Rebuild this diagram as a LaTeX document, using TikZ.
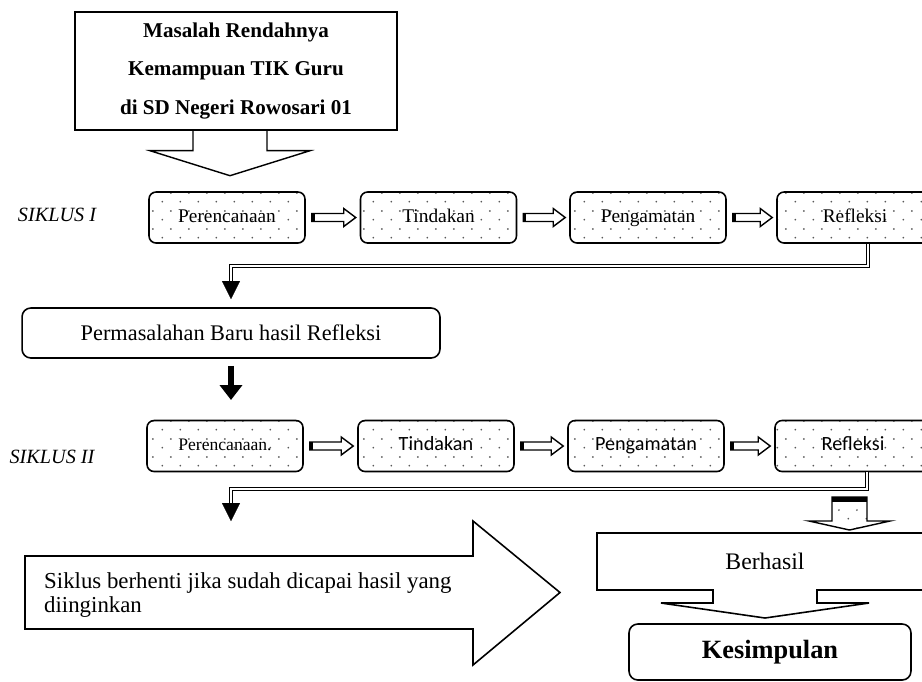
\documentclass[tikz,border=0pt]{standalone}
\usepackage{fontspec}
\setmainfont{Liberation Serif}
\newfontfamily\carlito{Carlito}
\usepackage{tikz}
\usetikzlibrary{arrows.meta}
\usetikzlibrary{positioning,calc,patterns}
\pgfdeclarepatternformonly{sparse dots}{\pgfpointorigin}{\pgfpoint{10pt}{10pt}}{\pgfpoint{10pt}{10pt}}{%
  \pgfpathcircle{\pgfpoint{2.5pt}{2.5pt}}{0.55pt}%
  \pgfpathcircle{\pgfpoint{7.5pt}{7.5pt}}{0.55pt}%
  \pgfusepath{fill}%
}
\tikzset{
    stage/.style={
        draw,
        rounded corners=4pt,
        line width=0.9pt,
        pattern=sparse dots,
        pattern color=black!65,
        minimum width=3.12cm,
        minimum height=1.02cm,
        text height=8pt,
        text depth=2.5pt,
        inner sep=1pt,
        font=\fontsize{11}{13}\selectfont
    },
    roundbox/.style={
        draw,
        rounded corners=5pt,
        line width=0.9pt,
        inner sep=2pt
    },
    cyclelabel/.style={font=\itshape\fontsize{11.5}{13}\selectfont},
    hollowarrow/.style={draw, line width=0.8pt, line join=miter},
    twoline/.style={draw, double, line width=0.7pt, double distance=1.2pt},
    blackhead/.style={draw, line width=0.1pt, -{Triangle[width=0.36cm,length=0.36cm]}}
}

\begin{document}
\begin{tikzpicture}[x=0.02cm, y=-0.02cm]
  \useasboundingbox (0,0) rectangle (922,681);
  \clip (0,0) rectangle (922,681);

  % Problem statement
  \node[draw, line width=0.8pt, minimum width=6.44cm, minimum height=2.36cm, align=center,
        font=\bfseries\fontsize{12}{22}\selectfont] (masalah) at (236,71)
        {Masalah Rendahnya\\Kemampuan TIK Guru\\di SD Negeri Rowosari 01};
  \draw[hollowarrow] ($(masalah.south)+(-43,0)$) -- ($(masalah.south)+(-43,20)$)
        -- ($(masalah.south)+(-86,20)$) -- ($(masalah.south)+(-6,45)$)
        -- ($(masalah.south)+(74,20)$) -- ($(masalah.south)+(31,20)$)
        -- ($(masalah.south)+(31,0)$);

  % Cycle I
  \node[cyclelabel] (siklus1) at (57,215) {SIKLUS I};
  \node[stage] (p1) at (227,217.5) {Perencanaan};
  \node[stage] (t1) at (438.5,217.5) {Tindakan};
  \node[stage] (g1) at (648,217.5) {Pengamatan};
  \node[stage] (r1) at (855,217.5) {Refleksi};

  % New problems
  \node[roundbox, minimum width=8.36cm, minimum height=1cm,
        font=\fontsize{12.7}{15}\selectfont] (perm) at (231,333) {Permasalahan Baru hasil Refleksi};

  % Cycle II
  \node[cyclelabel] (siklus2) at (52,457) {SIKLUS II};
  \node[stage, font=\fontsize{10}{12}\selectfont] (p2) at (225,446) {Perencanaan.};
  \node[stage, font=\carlito\fontsize{11.5}{13}\selectfont] (t2) at (436,446) {Tindakan};
  \node[stage, font=\carlito\fontsize{11.5}{13}\selectfont] (g2) at (646,446) {Pengamatan};
  \node[stage, font=\carlito\fontsize{11.5}{13}\selectfont] (r2) at (853,446) {Refleksi};

  % Arrows between the stages
  \foreach \a/\b in {p1/t1,t1/g1,g1/r1,p2/t2,t2/g2,g2/r2}{
    \draw[hollowarrow] ($(\a.east)+(6,-4)$) -- ($(\b.west)+(-16,-4)$) -- ($(\b.west)+(-16,-9)$)
          -- ($(\b.west)+(-4,0)$) -- ($(\b.west)+(-16,9)$) -- ($(\b.west)+(-16,4)$)
          -- ($(\a.east)+(6,4)$) -- cycle;
    \fill ($(\a.east)+(6,-4)$) rectangle ($(\a.east)+(9,4)$);
  }

  % Back from Refleksi
  \coordinate (bend1) at (231,266);
  \coordinate (drop1) at (231,282);
  \coordinate (tip1) at (231,299);
  \draw[twoline] ($(r1.south)+(13,0)$) |- (bend1) -- (drop1);
  \draw[blackhead] (drop1) -- (tip1);

  \coordinate (tip2) at (231,400);
  \draw[line width=0.12cm, -{Triangle[width=0.44cm,length=0.3cm]}] ($(perm.south)+(0,7)$) -- (tip2);

  \coordinate (bend2) at (231,489);
  \coordinate (drop2) at (231,504);
  \coordinate (tip3) at (231,521);
  \draw[twoline] ($(r2.south)+(14,0)$) |- (bend2) -- (drop2);
  \draw[blackhead] (drop2) -- (tip3);

  % Stop condition
  \draw[line width=0.9pt, line join=miter] (25,556) -- (473,556) -- (473,521) -- (560,592.5)
        -- (473,665) -- (473,629) -- (25,629) -- cycle;
  \node[anchor=west, align=left, font=\fontsize{13}{14}\selectfont] (stop) at (38,595)
        {Siklus berhenti jika sudah dicapai hasil yang\\diinginkan};

  % Success
  \draw[line width=0.8pt, line join=miter, pattern=sparse dots, pattern color=black!65]
        (832,497) -- (867,497) -- (867,521) -- (890,521) -- (849.5,530) -- (809,521)
        -- (832,521) -- cycle;
  \fill (832,497) rectangle (867,502);
  \node[font=\fontsize{13.5}{15}\selectfont] (berhasil) at (765,561) {Berhasil};
  \draw[line width=0.9pt, line join=miter] (597,533) -- (933,533) -- (933,590) -- (817,590)
        -- (817,603) -- (869,603) -- (765,618) -- (661,603) -- (713,603) -- (713,590)
        -- (597,590) -- cycle;

  \node[roundbox, minimum width=5.64cm, minimum height=1.12cm,
        font=\bfseries\fontsize{15}{17}\selectfont] (kesimpulan) at (770,652) {Kesimpulan};
\end{tikzpicture}
\end{document}
